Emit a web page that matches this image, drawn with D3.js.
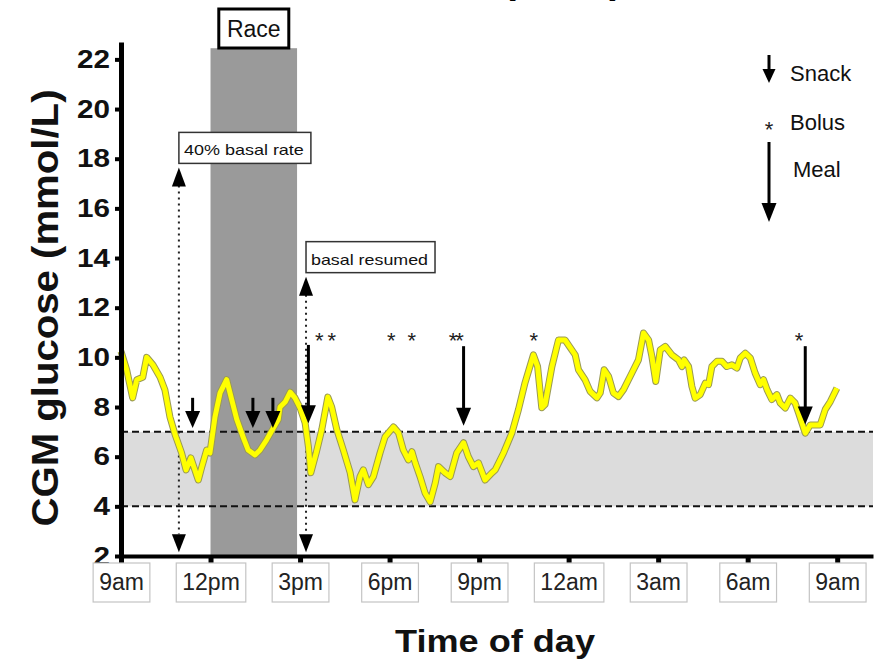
<!DOCTYPE html>
<html>
<head>
<meta charset="utf-8">
<script src="https://cdn.jsdelivr.net/npm/d3@7"></script>
<style>
  body { margin: 0; background: #fff; }
  svg { display: block; font-family: "Liberation Sans", Arial, sans-serif; }
</style>
</head>
<body>
<svg id="chart" width="878" height="661"></svg>
<script>
// CGM trace, hours after 9am
var hours = [0, 0.19, 0.39, 0.53, 0.73, 0.86, 1.07, 1.31, 1.47, 1.64, 1.81, 2.03, 2.18, 2.34, 2.59, 2.71, 2.87, 2.98,
  3.15, 3.32, 3.54, 3.71, 3.88, 4.09, 4.26, 4.49, 4.66, 4.88, 5.11, 5.27, 5.33, 5.50, 5.67, 5.83, 6.00, 6.17, 6.28, 6.36,
  6.54, 6.73, 6.93, 7.06, 7.23, 7.45, 7.68, 7.84, 8.01, 8.12, 8.29, 8.46, 8.68, 8.85, 9.13, 9.30, 9.46, 9.63, 9.75, 9.86,
  10.02, 10.19, 10.36, 10.53, 10.64, 10.86, 11.03, 11.25, 11.48, 11.64, 11.81, 11.98, 12.20, 12.43, 12.54, 12.82, 13.10,
  13.32, 13.54, 13.82, 13.96, 14.10, 14.21, 14.44, 14.66, 14.88, 15.05, 15.22, 15.33, 15.55, 15.72, 15.95, 16.06, 16.19,
  16.34, 16.50, 16.67, 16.84, 17.12, 17.34, 17.51, 17.68, 17.79, 17.92, 18.07, 18.24, 18.46, 18.68, 18.80, 18.87, 19.02,
  19.13, 19.24, 19.41, 19.58, 19.69, 19.80, 19.97, 20.14, 20.30, 20.47, 20.64, 20.75, 20.92, 21.09, 21.25, 21.42, 21.53,
  21.65, 21.81, 21.98, 22.09, 22.26, 22.43, 22.59, 22.71, 22.93, 23.10, 23.43, 23.60, 23.77, 23.99];
var glucose = [10.24, 9.5, 8.37, 9.1, 9.2, 10.0, 9.7, 9.2, 8.7, 7.6, 6.9, 6.15, 5.47, 5.95, 5.06, 5.6, 6.27, 6.15,
  7.6, 8.57, 9.1, 8.3, 7.5, 6.8, 6.27, 6.07, 6.27, 6.68, 7.16, 7.5, 8.0, 8.2, 8.6, 8.37, 7.97, 7.36, 6.4, 5.35,
  6.15, 7.1, 8.4, 8.0, 7.1, 6.27, 5.35, 4.26, 5.2, 5.47, 4.87, 5.2, 6.15, 6.8, 7.2, 6.96, 6.27, 5.87, 6.2, 5.75,
  5.2, 4.54, 4.18, 4.94, 5.6, 5.35, 5.2, 6.15, 6.56, 6.0, 5.6, 5.75, 5.06, 5.35, 5.47, 6.15, 6.96,
  7.9, 8.98, 10.1, 9.63, 7.97, 8.1, 9.63, 10.7, 10.7, 10.4, 10.1, 9.5, 9.1, 8.63, 8.37, 8.57, 9.5,
  9.23, 8.57, 8.42, 8.7, 9.37, 9.9, 10.98, 10.7, 10.04, 9.03, 10.3, 10.44, 10.1, 9.9, 9.63, 9.9, 9.63,
  8.83, 8.36, 8.5, 8.96, 8.9, 9.63, 9.84, 9.84, 9.63, 9.7, 9.57, 9.97, 10.17, 9.97, 9.37, 8.9, 9.1,
  8.7, 8.3, 8.5, 8.16, 7.96, 8.36, 8.16, 7.75, 6.95, 7.28, 7.28, 7.9, 8.22, 8.76];

var tickHours = [0, 3, 6, 9, 12, 15, 18, 21, 24];
var tickLabels = ["9am", "12pm", "3pm", "6pm", "9pm", "12am", "3am", "6am", "9am"];
var yTicks = [2, 4, 6, 8, 10, 12, 14, 16, 18, 20, 22];

var targetRange = [4, 7];
var raceHours = [3.0, 5.9];
var raceTop = 22.45;

var snackHours = [2.40, 4.42, 5.09];
var snackTop = [8.37, 8.37, 8.37];
var snackTip = [7.15, 7.15, 7.15];

var mealHours = [6.28, 11.48, 22.93];
var mealTop = [10.5, 10.45, 10.45];
var mealTip = [7.35, 7.25, 7.3];

var bolusHours = [6.61, 7.03, 9.02, 9.71, 11.2, 13.80, 22.69];
var bolusMarks = ["*", "*", "*", "*", "**", "*", "*"];
var bolusLevel = 10.95;

var basalHours = [1.94, 6.2];
var basalTop = [17.65, 13.25];
var basalBottom = 2.15;
var basalLabels = ["40% basal rate", "basal resumed"];
var basalLabelWidths = [120, 117];

var legendLabels = ["Snack", "Bolus", "Meal"];

var svg = d3.select("#chart");

var x = d3.scaleLinear().domain([0, 25.2]).range([121, 873]);
var y = d3.scaleLinear().domain([2, 22.7]).range([556, 42]);

// cropped title, only descenders show
var title = svg.append("text")
    .attr("x", 0).attr("y", -7)
    .attr("font-size", 40).attr("font-weight", "bold")
    .text("Athlete_2 (CGM)");
var ux = title.node().getStartPositionOfChar(7).x;
title.attr("x", 447 - ux);

// target band
svg.append("rect")
    .attr("x", x(0)).attr("width", x(25.2) - x(0))
    .attr("y", y(targetRange[1])).attr("height", y(targetRange[0]) - y(targetRange[1]))
    .attr("fill", "#dcdcdc");

// race period
svg.append("rect")
    .attr("x", x(raceHours[0])).attr("width", x(raceHours[1]) - x(raceHours[0]))
    .attr("y", y(raceTop)).attr("height", y(2) - y(raceTop))
    .attr("fill", "#9a9a9a");

var raceMid = (x(raceHours[0]) + x(raceHours[1])) / 2;
svg.append("rect")
    .attr("x", raceMid - 35).attr("y", 9).attr("width", 70).attr("height", 39)
    .attr("fill", "#fff").attr("stroke", "#000").attr("stroke-width", 3);
svg.append("text")
    .attr("x", raceMid).attr("y", 37)
    .attr("text-anchor", "middle").attr("font-size", 23).attr("fill", "#111")
    .text("Race");

// dashed limits
svg.selectAll(".limit")
    .data(targetRange)
    .enter().append("line")
    .attr("class", "limit")
    .attr("x1", x(0)).attr("x2", x(25.2))
    .attr("y1", function(d) { return y(d); }).attr("y2", function(d) { return y(d); })
    .attr("stroke", "#111").attr("stroke-width", 2).attr("stroke-dasharray", "7,4");

function tri(g, cx, tipY, w, h, dir) {
    // dir 1 = points down, -1 = points up
    g.append("path")
        .attr("d", "M" + (cx - w / 2) + "," + (tipY - dir * h) + "L" + (cx + w / 2) + "," + (tipY - dir * h) + "L" + cx + "," + tipY + "Z")
        .attr("fill", "#000");
}

// basal rate arrows
basalHours.forEach(function(h, i) {
    var g = svg.append("g");
    var cx = x(h), top = y(basalTop[i]), bot = y(basalBottom);
    g.append("line")
        .attr("x1", cx).attr("x2", cx).attr("y1", top + 18).attr("y2", bot - 18)
        .attr("stroke", "#222").attr("stroke-width", 2).attr("stroke-dasharray", "2,4");
    tri(g, cx, top, 14, 19, -1);
    tri(g, cx, bot, 14, 18, 1);
    g.append("text")
        .attr("x", cx + 5).attr("y", top - 12)
        .attr("font-size", 15).attr("fill", "#111")
        .attr("textLength", basalLabelWidths[i]).attr("lengthAdjust", "spacingAndGlyphs")
        .text(basalLabels[i]);
    g.insert("rect", "text")
        .attr("x", cx).attr("y", top - 35)
        .attr("width", basalLabelWidths[i] + 12).attr("height", 31)
        .attr("fill", "#fff").attr("stroke", "#333").attr("stroke-width", 1.5);
});

// glucose trace
var line = d3.line()
    .x(function(d, i) { return x(hours[i]); })
    .y(function(d) { return y(d); });

svg.append("path")
    .datum(glucose)
    .attr("d", line)
    .attr("fill", "none").attr("stroke", "#9a9a55").attr("stroke-width", 7)
    .attr("stroke-linejoin", "round");
svg.append("path")
    .datum(glucose)
    .attr("d", line)
    .attr("fill", "none").attr("stroke", "#ffff00").attr("stroke-width", 5)
    .attr("stroke-linejoin", "round");

function downArrow(g, cx, y0, y1, w, h) {
    g.append("line")
        .attr("x1", cx).attr("x2", cx).attr("y1", y0).attr("y2", y1 - h + 2)
        .attr("stroke", "#000").attr("stroke-width", 3);
    tri(g, cx, y1, w, h, 1);
}

var marks = svg.append("g");
snackHours.forEach(function(h, i) {
    downArrow(marks, x(h), y(snackTop[i]), y(snackTip[i]), 15, 17);
});
mealHours.forEach(function(h, i) {
    downArrow(marks, x(h), y(mealTop[i]), y(mealTip[i]), 15, 18);
});
marks.selectAll(".bolus")
    .data(bolusHours)
    .enter().append("text")
    .attr("class", "bolus")
    .attr("x", function(d) { return x(d); })
    .attr("y", y(bolusLevel) + 14)
    .attr("text-anchor", "middle").attr("font-size", 22).attr("fill", "#222")
    .attr("letter-spacing", -2)
    .text(function(d, i) { return bolusMarks[i]; });

// axes
var yAxis = svg.append("g")
    .attr("transform", "translate(" + x(0) + ",0)")
    .call(d3.axisLeft(y).tickValues(yTicks).tickSize(6).tickSizeOuter(0).tickPadding(5));
yAxis.select(".domain").attr("stroke", "#000").attr("stroke-width", 5);
yAxis.selectAll(".tick line").attr("stroke", "#000").attr("stroke-width", 4);
yAxis.selectAll(".tick text")
    .attr("font-family", "'Liberation Sans', Arial, sans-serif")
    .attr("font-size", 25).attr("font-weight", "bold").attr("fill", "#111")
    .attr("textLength", function(d) { return String(d).length * 16.5; })
    .attr("lengthAdjust", "spacingAndGlyphs");

var xAxis = svg.append("g")
    .attr("transform", "translate(0," + y(2) + ")")
    .call(d3.axisBottom(x).tickValues(tickHours).tickSize(7).tickSizeOuter(0).tickPadding(11)
        .tickFormat(function(d, i) { return tickLabels[i]; }));
xAxis.select(".domain").attr("stroke", "#000").attr("stroke-width", 4);
xAxis.selectAll(".tick line").attr("stroke", "#000").attr("stroke-width", 5);
xAxis.selectAll(".tick text")
    .attr("font-family", "'Liberation Sans', Arial, sans-serif")
    .attr("font-size", 23).attr("fill", "#222");
xAxis.selectAll(".tick").each(function() {
    var tk = d3.select(this);
    var bb = tk.select("text").node().getBBox();
    tk.insert("rect", "text")
        .attr("x", bb.x - 6).attr("y", 7)
        .attr("width", bb.width + 12).attr("height", 39)
        .attr("fill", "#fff").attr("stroke", "#c4c4c4").attr("stroke-width", 1.2);
});

// axis titles
svg.append("text")
    .attr("transform", "translate(58,308) rotate(-90)")
    .attr("text-anchor", "middle")
    .attr("font-size", 36).attr("font-weight", "bold").attr("fill", "#111")
    .attr("textLength", 437).attr("lengthAdjust", "spacingAndGlyphs")
    .text("CGM glucose (mmol/L)");

svg.append("text")
    .attr("x", 495).attr("y", 652)
    .attr("text-anchor", "middle")
    .attr("font-size", 31).attr("font-weight", "bold").attr("fill", "#111")
    .attr("textLength", 200).attr("lengthAdjust", "spacingAndGlyphs")
    .text("Time of day");

// legend
var lg = svg.append("g");
downArrow(lg, 769, 55, 83, 13, 14);
downArrow(lg, 769, 142, 222, 15, 19);
lg.append("text")
    .attr("x", 769).attr("y", 137)
    .attr("text-anchor", "middle").attr("font-size", 22).attr("fill", "#222")
    .text("*");
lg.selectAll(".lbl")
    .data(legendLabels)
    .enter().append("text")
    .attr("class", "lbl")
    .attr("x", function(d, i) { return i == 2 ? 793 : 790; })
    .attr("y", function(d, i) { return [81, 130, 177][i]; })
    .attr("font-size", 22).attr("fill", "#111")
    .text(function(d) { return d; });
</script>
</body>
</html>
